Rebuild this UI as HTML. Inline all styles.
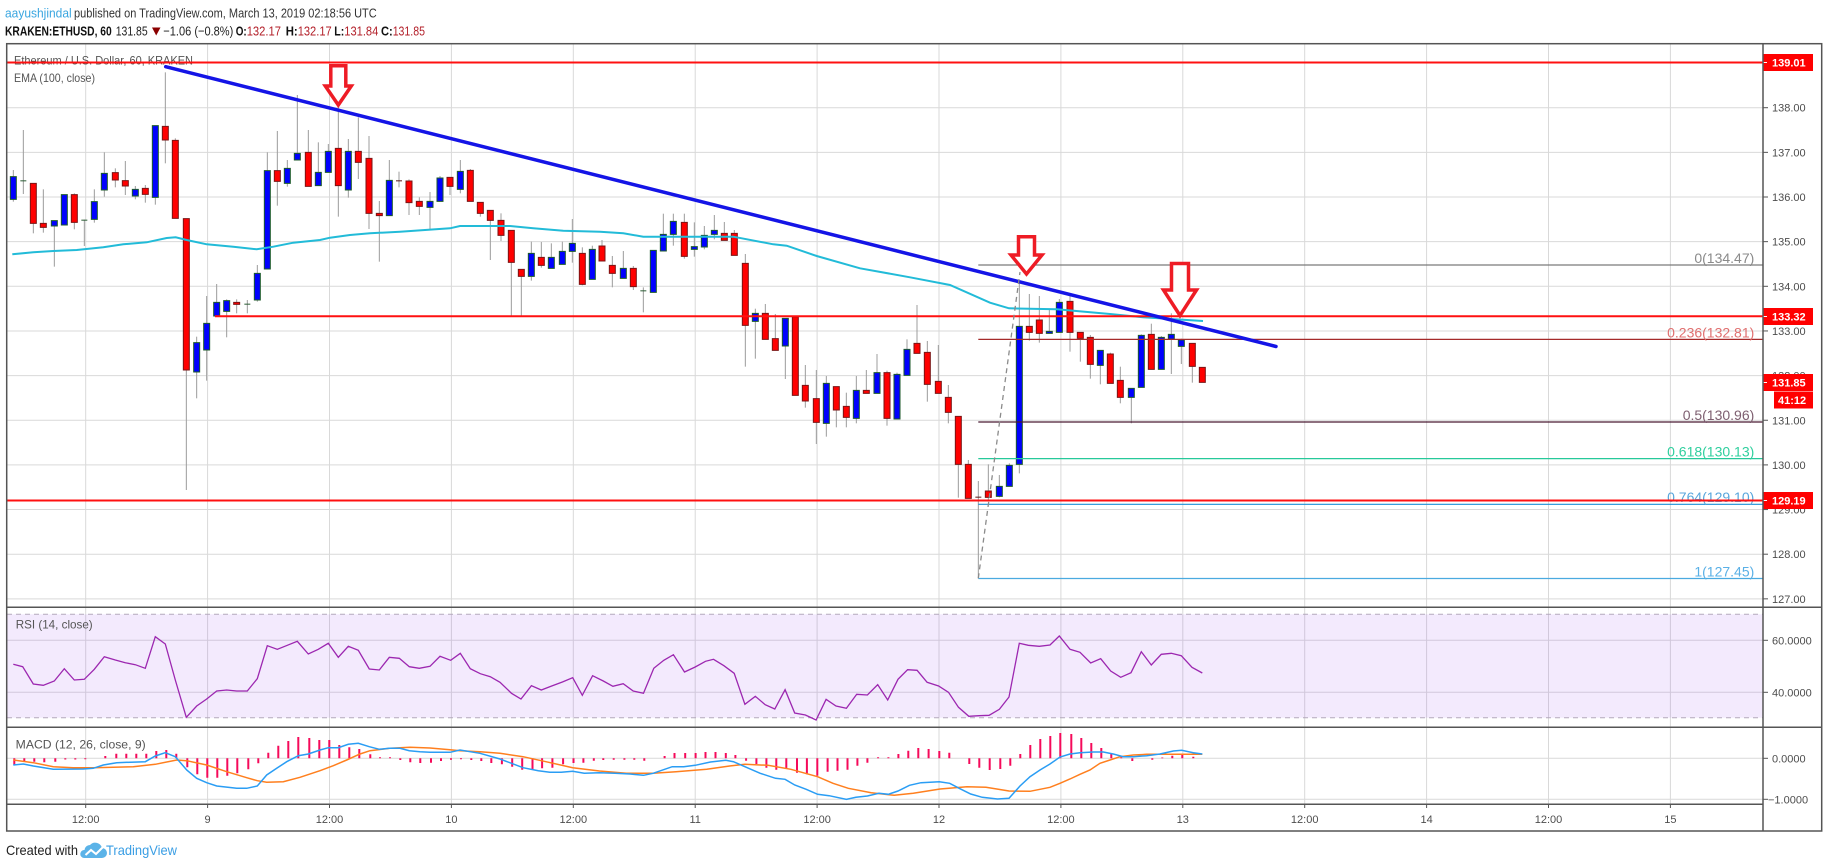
<!DOCTYPE html>
<html><head><meta charset="utf-8"><style>
html,body{margin:0;padding:0;background:#fff;}
svg{display:block;font-family:"Liberation Sans",Arial,sans-serif;}
.c line{stroke:#9c9c9c;stroke-width:1;vector-effect:non-scaling-stroke;}
.c .u{fill:#0000ff;stroke:#1d5a2a;stroke-width:1;vector-effect:non-scaling-stroke;}
.c .d{fill:#ff0000;stroke:#7a1414;stroke-width:1;vector-effect:non-scaling-stroke;}
.c .g{fill:#2a5c34;}
.c .r{fill:#5a1a1a;}
.ax{font-size:11px;fill:#4d4d4d;}
.lb{font-size:11px;fill:#fff;font-weight:bold;}
</style></head><body>
<svg width="1828" height="868" viewBox="0 0 1828 868" xmlns="http://www.w3.org/2000/svg">
<rect width="1828" height="868" fill="#fff"/>
<!-- header -->
<text x="5" y="17.5" font-size="13" fill="#3aa6e0" textLength="66.7" lengthAdjust="spacingAndGlyphs">aayushjindal</text>
<text x="74" y="17.5" font-size="13" fill="#333" textLength="302.7" lengthAdjust="spacingAndGlyphs">published on TradingView.com, March 13, 2019 02:18:56 UTC</text>
<text x="5" y="35.5" font-size="13" font-weight="bold" fill="#111" textLength="106.7" lengthAdjust="spacingAndGlyphs">KRAKEN:ETHUSD, 60</text>
<text x="115.7" y="35.5" font-size="13" fill="#222" textLength="32" lengthAdjust="spacingAndGlyphs">131.85</text>
<polygon points="152,27.5 160.5,27.5 156.2,35.5" fill="#8b0000"/>
<text x="163.3" y="35.5" font-size="13" fill="#222" textLength="70" lengthAdjust="spacingAndGlyphs">−1.06 (−0.8%)</text>
<text x="235.7" y="35.5" font-size="13" font-weight="bold" fill="#111" textLength="11" lengthAdjust="spacingAndGlyphs">O:</text>
<text x="246.7" y="35.5" font-size="13" fill="#b3202a" textLength="34.3" lengthAdjust="spacingAndGlyphs">132.17</text>
<text x="285.7" y="35.5" font-size="13" font-weight="bold" fill="#111" textLength="12" lengthAdjust="spacingAndGlyphs">H:</text>
<text x="297.7" y="35.5" font-size="13" fill="#b3202a" textLength="34" lengthAdjust="spacingAndGlyphs">132.17</text>
<text x="334.3" y="35.5" font-size="13" font-weight="bold" fill="#111" textLength="10" lengthAdjust="spacingAndGlyphs">L:</text>
<text x="344.3" y="35.5" font-size="13" fill="#b3202a" textLength="34" lengthAdjust="spacingAndGlyphs">131.84</text>
<text x="381" y="35.5" font-size="13" font-weight="bold" fill="#111" textLength="11.7" lengthAdjust="spacingAndGlyphs">C:</text>
<text x="392.7" y="35.5" font-size="13" fill="#b3202a" textLength="32.3" lengthAdjust="spacingAndGlyphs">131.85</text>

<!-- gridlines -->
<g stroke="#d9d9d9" stroke-width="1">
<line x1="7" x2="1763" y1="107.7" y2="107.7"/><line x1="7" x2="1763" y1="152.35" y2="152.35"/>
<line x1="7" x2="1763" y1="197" y2="197"/><line x1="7" x2="1763" y1="241.65" y2="241.65"/>
<line x1="7" x2="1763" y1="286.3" y2="286.3"/><line x1="7" x2="1763" y1="330.95" y2="330.95"/>
<line x1="7" x2="1763" y1="375.6" y2="375.6"/><line x1="7" x2="1763" y1="420.25" y2="420.25"/>
<line x1="7" x2="1763" y1="464.9" y2="464.9"/><line x1="7" x2="1763" y1="509.55" y2="509.55"/>
<line x1="7" x2="1763" y1="554.2" y2="554.2"/><line x1="7" x2="1763" y1="598.85" y2="598.85"/>
<line x1="7" x2="1763" y1="640.3" y2="640.3"/><line x1="7" x2="1763" y1="692.3" y2="692.3"/>
<line x1="7" x2="1763" y1="758.3" y2="758.3"/><line x1="7" x2="1763" y1="799.3" y2="799.3"/>
<line x1="85.7" x2="85.7" y1="44" y2="804"/><line x1="207.6" x2="207.6" y1="44" y2="804"/>
<line x1="329.5" x2="329.5" y1="44" y2="804"/><line x1="451.4" x2="451.4" y1="44" y2="804"/>
<line x1="573.3" x2="573.3" y1="44" y2="804"/><line x1="695.2" x2="695.2" y1="44" y2="804"/>
<line x1="817.1" x2="817.1" y1="44" y2="804"/><line x1="939" x2="939" y1="44" y2="804"/>
<line x1="1060.9" x2="1060.9" y1="44" y2="804"/><line x1="1182.8" x2="1182.8" y1="44" y2="804"/>
<line x1="1304.7" x2="1304.7" y1="44" y2="804"/><line x1="1426.6" x2="1426.6" y1="44" y2="804"/>
<line x1="1548.5" x2="1548.5" y1="44" y2="804"/><line x1="1670.4" x2="1670.4" y1="44" y2="804"/>
</g>

<!-- RSI fill -->
<rect x="7" y="614.3" width="1756" height="103.4" fill="rgba(150,60,235,0.11)"/>
<g stroke="#b4aabb" stroke-width="1" stroke-dasharray="5,4">
<line x1="7" x2="1763" y1="614.3" y2="614.3"/><line x1="7" x2="1763" y1="717.7" y2="717.7"/>
</g>

<!-- legends -->
<text x="14" y="64.5" font-size="12" fill="#555" textLength="179" lengthAdjust="spacingAndGlyphs">Ethereum / U.S. Dollar, 60, KRAKEN</text>
<text x="14" y="82" font-size="12" fill="#555" textLength="81" lengthAdjust="spacingAndGlyphs">EMA (100, close)</text>
<text x="15.7" y="628.5" font-size="12" fill="#555" textLength="77" lengthAdjust="spacingAndGlyphs">RSI (14, close)</text>
<text x="15.7" y="748.5" font-size="12" fill="#555" textLength="130" lengthAdjust="spacingAndGlyphs">MACD (12, 26, close, 9)</text>

<!-- candles -->
<g class="c" transform="translate(0,50) scale(0.333333)">
<line x1="40" y1="360" x2="40" y2="455"/><rect class="u" x="31" y="380" width="18" height="68"/>
<line x1="70" y1="240" x2="70" y2="432"/><rect class="g" x="61" y="391" width="18" height="3"/>
<line x1="100" y1="400" x2="100" y2="550"/><rect class="d" x="91" y="400" width="18" height="120"/>
<line x1="130" y1="418" x2="130" y2="548"/><rect class="d" x="121" y="520" width="18" height="12"/>
<line x1="163" y1="512" x2="163" y2="650"/><rect class="u" x="154" y="512" width="18" height="16"/>
<line x1="193" y1="434" x2="193" y2="525"/><rect class="u" x="184" y="434" width="18" height="91"/>
<line x1="223" y1="430" x2="223" y2="538"/><rect class="d" x="214" y="434" width="18" height="83"/>
<line x1="253" y1="509" x2="253" y2="588"/><rect class="g" x="244" y="509" width="18" height="3"/>
<line x1="283" y1="418" x2="283" y2="518"/><rect class="u" x="274" y="455" width="18" height="53"/>
<line x1="313" y1="307" x2="313" y2="440"/><rect class="u" x="304" y="370" width="18" height="50"/>
<line x1="346" y1="355" x2="346" y2="412"/><rect class="d" x="337" y="368" width="18" height="22"/>
<line x1="376" y1="333" x2="376" y2="435"/><rect class="d" x="367" y="392" width="18" height="16"/>
<line x1="406" y1="408" x2="406" y2="448"/><rect class="u" x="397" y="418" width="18" height="20"/>
<line x1="436" y1="405" x2="436" y2="458"/><rect class="d" x="427" y="415" width="18" height="18"/>
<line x1="466" y1="227" x2="466" y2="464"/><rect class="u" x="457" y="227" width="18" height="215"/>
<line x1="496" y1="67" x2="496" y2="340"/><rect class="d" x="487" y="229" width="18" height="41"/>
<line x1="526" y1="265" x2="526" y2="505"/><rect class="d" x="517" y="271" width="18" height="234"/>
<line x1="559" y1="506" x2="559" y2="1320"/><rect class="d" x="550" y="506" width="18" height="454"/>
<line x1="590" y1="860" x2="590" y2="1045"/><rect class="u" x="581" y="878" width="18" height="88"/>
<line x1="620" y1="738" x2="620" y2="992"/><rect class="u" x="611" y="820" width="18" height="80"/>
<line x1="650" y1="702" x2="650" y2="798"/><rect class="u" x="641" y="757" width="18" height="41"/>
<line x1="680" y1="748" x2="680" y2="862"/><rect class="u" x="671" y="752" width="18" height="32"/>
<line x1="710" y1="748" x2="710" y2="790"/><rect class="d" x="701" y="757" width="18" height="6"/>
<line x1="742" y1="750" x2="742" y2="790"/><rect class="g" x="733" y="761" width="18" height="3"/>
<line x1="772" y1="645" x2="772" y2="755"/><rect class="u" x="763" y="670" width="18" height="80"/>
<line x1="802" y1="307" x2="802" y2="657"/><rect class="u" x="793" y="362" width="18" height="295"/>
<line x1="832" y1="243" x2="832" y2="467"/><rect class="d" x="823" y="362" width="18" height="32"/>
<line x1="862" y1="330" x2="862" y2="410"/><rect class="u" x="853" y="355" width="18" height="45"/>
<line x1="892" y1="135" x2="892" y2="330"/><rect class="u" x="883" y="310" width="18" height="20"/>
</g>
<g class="c" transform="translate(300,100) scale(0.333333)">
<line x1="25" y1="90" x2="25" y2="259"/><rect class="d" x="16" y="157" width="18" height="102"/>
<line x1="55" y1="127" x2="55" y2="257"/><rect class="u" x="46" y="217" width="18" height="40"/>
<line x1="85" y1="132" x2="85" y2="217"/><rect class="u" x="76" y="154" width="18" height="63"/>
<line x1="115" y1="20" x2="115" y2="350"/><rect class="d" x="106" y="145" width="18" height="112"/>
<line x1="145" y1="117" x2="145" y2="293"/><rect class="u" x="136" y="154" width="18" height="116"/>
<line x1="175" y1="52" x2="175" y2="237"/><rect class="d" x="166" y="154" width="18" height="33"/>
<line x1="207" y1="108" x2="207" y2="387"/><rect class="d" x="198" y="175" width="18" height="165"/>
<line x1="238" y1="303" x2="238" y2="485"/><rect class="d" x="229" y="340" width="18" height="7"/>
<line x1="268" y1="180" x2="268" y2="347"/><rect class="u" x="259" y="241" width="18" height="106"/>
<line x1="297" y1="215" x2="297" y2="262"/><rect class="r" x="288" y="241" width="18" height="3"/>
<line x1="327" y1="238" x2="327" y2="345"/><rect class="d" x="318" y="243" width="18" height="65"/>
<line x1="358" y1="292" x2="358" y2="345"/><rect class="d" x="349" y="304" width="18" height="15"/>
<line x1="390" y1="276" x2="390" y2="390"/><rect class="u" x="381" y="304" width="18" height="18"/>
<line x1="420" y1="228" x2="420" y2="304"/><rect class="u" x="411" y="234" width="18" height="70"/>
<line x1="450" y1="232" x2="450" y2="285"/><rect class="d" x="441" y="232" width="18" height="27"/>
<line x1="481" y1="180" x2="481" y2="280"/><rect class="u" x="472" y="214" width="18" height="54"/>
<line x1="511" y1="207" x2="511" y2="304"/><rect class="d" x="502" y="211" width="18" height="93"/>
<line x1="541" y1="307" x2="541" y2="350"/><rect class="d" x="532" y="307" width="18" height="33"/>
<line x1="571" y1="331" x2="571" y2="480"/><rect class="d" x="562" y="331" width="18" height="30"/>
<line x1="603" y1="340" x2="603" y2="423"/><rect class="d" x="594" y="361" width="18" height="45"/>
<line x1="634" y1="391" x2="634" y2="648"/><rect class="d" x="625" y="391" width="18" height="96"/>
<line x1="664" y1="508" x2="664" y2="648"/><rect class="d" x="655" y="508" width="18" height="21"/>
<line x1="694" y1="425" x2="694" y2="542"/><rect class="u" x="685" y="460" width="18" height="69"/>
<line x1="724" y1="426" x2="724" y2="503"/><rect class="d" x="715" y="472" width="18" height="24"/>
<line x1="754" y1="430" x2="754" y2="505"/><rect class="u" x="745" y="472" width="18" height="33"/>
<line x1="787" y1="425" x2="787" y2="493"/><rect class="u" x="778" y="454" width="18" height="39"/>
<line x1="817" y1="357" x2="817" y2="488"/><rect class="u" x="808" y="430" width="18" height="24"/>
<line x1="847" y1="442" x2="847" y2="556"/><rect class="d" x="838" y="460" width="18" height="93"/>
<line x1="877" y1="437" x2="877" y2="538"/><rect class="u" x="868" y="448" width="18" height="90"/>
</g>
<g class="c" transform="translate(600,180) scale(0.333333)">
<line x1="6" y1="180" x2="6" y2="243"/><rect class="d" x="-3" y="198" width="18" height="45"/>
<line x1="37" y1="228" x2="37" y2="322"/><rect class="d" x="28" y="256" width="18" height="24"/>
<line x1="70" y1="213" x2="70" y2="295"/><rect class="u" x="61" y="265" width="18" height="30"/>
<line x1="100" y1="258" x2="100" y2="330"/><rect class="d" x="91" y="265" width="18" height="55"/>
<line x1="130" y1="322" x2="130" y2="397"/><rect class="g" x="121" y="331" width="18" height="3"/>
<line x1="160" y1="211" x2="160" y2="337"/><rect class="u" x="151" y="211" width="18" height="126"/>
<line x1="190" y1="101" x2="190" y2="213"/><rect class="u" x="181" y="163" width="18" height="50"/>
<line x1="220" y1="101" x2="220" y2="197"/><rect class="u" x="211" y="124" width="18" height="39"/>
<line x1="253" y1="101" x2="253" y2="236"/><rect class="d" x="244" y="127" width="18" height="102"/>
<line x1="283" y1="127" x2="283" y2="230"/><rect class="u" x="274" y="200" width="18" height="8"/>
<line x1="313" y1="138" x2="313" y2="208"/><rect class="u" x="304" y="166" width="18" height="35"/>
<line x1="343" y1="105" x2="343" y2="178"/><rect class="u" x="334" y="151" width="18" height="12"/>
<line x1="373" y1="126" x2="373" y2="181"/><rect class="d" x="364" y="160" width="18" height="21"/>
<line x1="403" y1="150" x2="403" y2="226"/><rect class="d" x="394" y="160" width="18" height="66"/>
<line x1="436" y1="222" x2="436" y2="560"/><rect class="d" x="427" y="250" width="18" height="186"/>
<line x1="466" y1="386" x2="466" y2="536"/><rect class="u" x="457" y="400" width="18" height="24"/>
<line x1="496" y1="372" x2="496" y2="478"/><rect class="d" x="487" y="400" width="18" height="78"/>
<line x1="526" y1="402" x2="526" y2="511"/><rect class="d" x="517" y="476" width="18" height="35"/>
<line x1="556" y1="415" x2="556" y2="597"/><rect class="u" x="547" y="415" width="18" height="83"/>
<line x1="586" y1="411" x2="586" y2="646"/><rect class="d" x="577" y="411" width="18" height="235"/>
<line x1="616" y1="555" x2="616" y2="683"/><rect class="d" x="607" y="616" width="18" height="47"/>
<line x1="649" y1="570" x2="649" y2="792"/><rect class="d" x="640" y="656" width="18" height="71"/>
<line x1="679" y1="588" x2="679" y2="770"/><rect class="u" x="670" y="610" width="18" height="120"/>
<line x1="709" y1="620" x2="709" y2="742"/><rect class="d" x="700" y="620" width="18" height="70"/>
<line x1="739" y1="638" x2="739" y2="742"/><rect class="d" x="730" y="679" width="18" height="33"/>
<line x1="769" y1="588" x2="769" y2="730"/><rect class="u" x="760" y="631" width="18" height="84"/>
<line x1="799" y1="570" x2="799" y2="640"/><rect class="d" x="790" y="631" width="18" height="9"/>
<line x1="831" y1="522" x2="831" y2="640"/><rect class="u" x="822" y="578" width="18" height="62"/>
<line x1="861" y1="572" x2="861" y2="737"/><rect class="d" x="852" y="578" width="18" height="137"/>
<line x1="891" y1="578" x2="891" y2="717"/><rect class="u" x="882" y="583" width="18" height="134"/>
<line x1="921" y1="478" x2="921" y2="586"/><rect class="u" x="912" y="508" width="18" height="78"/>
</g>
<g class="c" transform="translate(910,220) scale(0.333333)">
<line x1="21" y1="255" x2="21" y2="400"/><rect class="d" x="12" y="370" width="18" height="30"/>
<line x1="52" y1="363" x2="52" y2="545"/><rect class="d" x="43" y="397" width="18" height="96"/>
<line x1="85" y1="375" x2="85" y2="520"/><rect class="d" x="76" y="484" width="18" height="36"/>
<line x1="115" y1="495" x2="115" y2="610"/><rect class="d" x="106" y="532" width="18" height="45"/>
<line x1="145" y1="589" x2="145" y2="833"/><rect class="d" x="136" y="589" width="18" height="144"/>
<line x1="175" y1="720" x2="175" y2="835"/><rect class="d" x="166" y="733" width="18" height="102"/>
<line x1="205" y1="783" x2="205" y2="1075"/><rect class="r" x="196" y="830" width="18" height="3"/>
<line x1="235" y1="733" x2="235" y2="845"/><rect class="d" x="226" y="813" width="18" height="19"/>
<line x1="268" y1="765" x2="268" y2="832"/><rect class="u" x="259" y="799" width="18" height="30"/>
<line x1="298" y1="730" x2="298" y2="799"/><rect class="u" x="289" y="736" width="18" height="63"/>
<line x1="328" y1="185" x2="328" y2="760"/><rect class="u" x="319" y="319" width="18" height="414"/>
<line x1="358" y1="222" x2="358" y2="362"/><rect class="d" x="349" y="319" width="18" height="18"/>
<line x1="388" y1="228" x2="388" y2="368"/><rect class="d" x="379" y="300" width="18" height="40"/>
<line x1="418" y1="270" x2="418" y2="340"/><rect class="u" x="409" y="334" width="18" height="6"/>
<line x1="448" y1="237" x2="448" y2="337"/><rect class="u" x="439" y="247" width="18" height="90"/>
<line x1="480" y1="220" x2="480" y2="395"/><rect class="d" x="471" y="244" width="18" height="93"/>
<line x1="511" y1="337" x2="511" y2="425"/><rect class="d" x="502" y="337" width="18" height="18"/>
<line x1="541" y1="345" x2="541" y2="476"/><rect class="d" x="532" y="352" width="18" height="81"/>
<line x1="571" y1="391" x2="571" y2="493"/><rect class="u" x="562" y="391" width="18" height="45"/>
<line x1="601" y1="398" x2="601" y2="490"/><rect class="d" x="592" y="402" width="18" height="88"/>
<line x1="631" y1="440" x2="631" y2="550"/><rect class="d" x="622" y="481" width="18" height="51"/>
<line x1="664" y1="505" x2="664" y2="610"/><rect class="u" x="655" y="505" width="18" height="27"/>
<line x1="694" y1="343" x2="694" y2="502"/><rect class="u" x="685" y="346" width="18" height="156"/>
<line x1="724" y1="311" x2="724" y2="448"/><rect class="d" x="715" y="343" width="18" height="105"/>
<line x1="754" y1="348" x2="754" y2="448"/><rect class="u" x="745" y="352" width="18" height="96"/>
<line x1="784" y1="280" x2="784" y2="462"/><rect class="u" x="775" y="343" width="18" height="14"/>
<line x1="814" y1="356" x2="814" y2="432"/><rect class="u" x="805" y="360" width="18" height="19"/>
<line x1="847" y1="370" x2="847" y2="488"/><rect class="d" x="838" y="370" width="18" height="69"/>
<line x1="877" y1="442" x2="877" y2="487"/><rect class="d" x="868" y="442" width="18" height="45"/>
</g>

<!-- EMA -->
<polyline fill="none" stroke="#22bbd8" stroke-width="2" points="12.3,254.3 33.3,252.3 53.3,251 76.7,250 103.3,247.3 123.3,244.3 146.7,242.3 166.7,238 175.7,237.3 186.7,240 206.7,244.3 233.3,246.7 256.7,249.3 273.3,246.7 293.3,242.7 320,240 330,237.7 350,235 370,233.3 400,231.7 450,228.3 460,226 510,226 533.3,228.3 563.3,230.7 600,231.7 623.3,233.3 643.3,236.7 733.3,236.7 773.3,244.3 786.7,245.7 816.7,256 860,268.3 910,277.3 950,285 990,302.7 1009,308.3 1056.7,309.3 1110,314 1143,317.3 1203,321"/>

<!-- fib lines -->
<line x1="978.3" x2="1763" y1="265" y2="265" stroke="#7a7a7a" stroke-width="1.2"/>
<line x1="978.3" x2="1763" y1="339.4" y2="339.4" stroke="#a52a2a" stroke-width="1.2"/>
<line x1="978.3" x2="1763" y1="422" y2="422" stroke="#4a1a33" stroke-width="1.2"/>
<line x1="978.3" x2="1763" y1="458.6" y2="458.6" stroke="#26c99a" stroke-width="1.2"/>
<line x1="978.3" x2="1763" y1="504.3" y2="504.3" stroke="#1e90d6" stroke-width="1.2"/>
<line x1="978.3" x2="1763" y1="578.5" y2="578.5" stroke="#4aaae0" stroke-width="1.2"/>
<g font-size="14" text-anchor="end">
<text x="1754.3" y="263" fill="#8a8a8a">0(134.47)</text>
<text x="1754.3" y="337.5" fill="#e07070">0.236(132.81)</text>
<text x="1754.3" y="420" fill="#7e5f70">0.5(130.96)</text>
<text x="1754.3" y="456.5" fill="#2fcf9e">0.618(130.13)</text>
<text x="1754.3" y="502" fill="#58a6dc">0.764(129.10)</text>
<text x="1754.3" y="576.5" fill="#5ab0e6">1(127.45)</text>
</g>

<!-- red horizontal lines -->
<g stroke="#ff1010" stroke-width="2">
<line x1="7" x2="1763" y1="62.5" y2="62.5"/>
<line x1="215" x2="1763" y1="316.3" y2="316.3"/>
<line x1="7" x2="1763" y1="500.5" y2="500.5"/>
</g>

<!-- trendline -->
<line x1="165.7" y1="66.7" x2="1276" y2="346.5" stroke="#1414e6" stroke-width="3.5" stroke-linecap="round"/>
<!-- dashed fib connector -->
<line x1="978.3" y1="578.3" x2="1020" y2="272" stroke="#8a8a8a" stroke-width="1.3" stroke-dasharray="5,4"/>

<!-- arrows -->
<g fill="#fff" stroke="#ee1c25" stroke-width="3.5" stroke-linejoin="miter">
<polygon points="330.8,65.8 345.8,65.8 345.8,86 351.3,86 338.3,105 325.3,86 330.8,86"/>
<polygon points="1018.5,236.8 1034.5,236.8 1034.5,255 1042,255 1026.5,274 1011,255 1018.5,255"/>
<polygon points="1171.5,263.5 1188.5,263.5 1188.5,290 1196.5,290 1180,315.5 1163.5,290 1171.5,290"/>
</g>

<!-- RSI line -->
<polyline fill="none" stroke="#9c27b0" stroke-width="1.3" points="13.3,664.3 22.7,666.7 33.3,684 43.3,685.3 54.3,681 64.3,668.7 74.3,680 84.3,679.3 94.3,669.3 104.3,656.7 115.3,660 125.3,662.7 135.3,664.7 145.3,668.3 155.3,636.7 165.3,644 175.3,680 186.3,717.3 196.7,706 206.7,699 216.7,691 226.7,690 236.7,691 247.3,691 257.3,678.7 267.3,645.7 277.3,649.3 287.3,645.3 297.3,641.3 308.3,654 318.3,649.3 328.3,643.3 338.3,657.3 348.3,646.3 358.3,650.3 369.3,669 379.3,670 389.3,657.3 399.3,658.3 409.3,666.7 419.3,668.3 430,666.3 440,656.3 450.7,660.3 460.3,653.3 470.3,668.7 480.3,673.7 490.3,676.7 500,682.3 511.5,693.3 521,699 531.4,685.7 541.3,690 551.7,686 562.4,682 572.7,677.7 582.3,695.3 592.6,675.7 603.3,681 612.9,686.3 623.2,683.7 633.2,691 643.5,693.3 653.8,668.3 663.8,660.3 673.4,654.7 684.5,672 695.2,667 705.5,661.3 713.5,659.3 723.9,665.7 734.2,673.3 744.9,704.3 755.3,696.3 765.2,704.7 774.8,709 785.1,689.7 794.7,713 805.4,715 816.1,720 826.1,699.3 836,706 846.4,708.3 856.7,694.3 867.4,695 877.7,684.7 887.7,700 898,679.3 907.6,669.7 917.1,670.3 927.1,682.3 938.6,686 948.5,692.3 958.5,707.3 968.8,716.3 979.1,715.7 989.1,715.3 999.4,709.3 1009,697 1019.3,643.3 1028.3,645.3 1039.3,646.3 1050,645 1059.3,636 1070,649.3 1080,652.3 1090.7,663 1100.7,658.7 1110.7,671 1120.7,677.3 1131,672.7 1141.3,651.7 1151.3,665 1161.3,654.3 1171.3,653.3 1181.3,655.7 1192,667.3 1202.3,673"/>

<!-- MACD histogram -->
<path fill="none" stroke="#f50a5a" stroke-width="2" d="M14.3 758.3V765M24.3 758.3V761.7M34.3 758.3V761.7M44.3 758.3V762.3M55.3 758.3V761.7M65.3 758.3V759.5M75.3 758.3V759.5M85.3 758.3V759.3M105.3 758.3V756M116.3 758.3V753.7M126.3 758.3V753.7M136.3 758.3V753.7M146.3 758.3V753.7M156.3 758.3V751M166.3 758.3V750M176.3 758.3V753.7M187.3 758.3V767.3M197.3 758.3V774.3M207.3 758.3V777.7M217.3 758.3V777.7M227.3 758.3V775.7M237.3 758.3V773.3M248.3 758.3V769.3M258.3 758.3V763.3M268.3 758.3V752.7M278.3 758.3V745.7M288.3 758.3V741M298.3 758.3V737M309.3 758.3V738M319.3 758.3V740M329.3 758.3V740M339.3 758.3V745M349.3 758.3V747.3M359.3 758.3V749M370.3 758.3V754.3M380 758.3V757.3M390 758.3V757.3M400.3 758.3V760M410.3 758.3V762.3M420.3 758.3V763M431 758.3V762.7M441 758.3V761M451 758.3V759.7M461 758.3V759.3M471.3 758.3V760M481.3 758.3V761M491.3 758.3V763M501.9 758.3V764.3M512.2 758.3V766.7M522.2 758.3V769.7M532.5 758.3V769.3M542.1 758.3V768.3M552.4 758.3V767.7M563.1 758.3V764.3M573.5 758.3V763M583.4 758.3V762.7M593.8 758.3V760.7M603.3 758.3V760M613.7 758.3V759.7M624.4 758.3V759.7M634.3 758.3V759.7M644.3 758.3V760.7M664.6 758.3V756M674.5 758.3V753M685.2 758.3V753M695.6 758.3V753M705.5 758.3V752M715.5 758.3V752M725.8 758.3V753M735.4 758.3V755M746.1 758.3V760.7M756.4 758.3V764M766.4 758.3V767.7M776.3 758.3V769.7M786.3 758.3V768.3M797 758.3V772.7M806.9 758.3V774.3M817.3 758.3V775.7M827.6 758.3V771.7M837.5 758.3V770.7M847.5 758.3V769.7M857.4 758.3V765.7M867.4 758.3V762.7M878.1 758.3V757.3M888.4 758.3V757.3M898.4 758.3V754M908.3 758.3V750.7M918.3 758.3V748M928.6 758.3V749M939.3 758.3V751M949.3 758.3V752.7M969.3 758.3V764M979.3 758.3V767.7M989.7 758.3V770M1000.3 758.3V769M1010.3 758.3V765.7M1020.3 758.3V754M1030.3 758.3V745M1040.3 758.3V739M1050.3 758.3V736M1060.3 758.3V733M1071.3 758.3V734M1081.3 758.3V738M1091.3 758.3V743M1101.3 758.3V748M1111.3 758.3V753.3M1121.3 758.3V757.3M1132.3 758.3V761M1152.3 758.3V759.7M1162.3 758.3V757.5M1172.3 758.3V755.7M1182.3 758.3V754.3M1193.3 758.3V756.7"/>
<!-- MACD signal (orange) -->
<polyline fill="none" stroke="#ff7f1e" stroke-width="1.5" points="13.3,760 33.3,762.7 53.3,766.7 73.3,767.7 93.3,767.7 113.3,767.3 133.3,766.7 155.3,764.3 176.7,760 186.7,760.7 206.7,765 226.7,771.7 246.7,777.7 257.3,780.7 266.7,782.3 283.3,781.7 300,777.3 320,770.7 333.3,765.7 346.7,760 360,754 370,750.7 390,748.3 410,747.3 430,748 450,749.7 460,750.7 480,751.7 500,753.3 523,756.7 545.9,761.7 572.7,767.7 599.5,771 626.3,773.3 653.1,773.3 676,771.7 706.7,769.3 729.6,766 744.9,764.3 767.9,765.3 790.9,769.3 817.6,776.7 833,783.3 848.3,788.3 871.2,792.7 894.2,795.3 913.3,793.3 940.1,789 966.9,786.7 986,787.3 1009,791 1030,791.3 1050,787.3 1060,783.3 1070,779 1080,774.3 1090,770 1100,763.3 1110,760 1120,756.7 1133.3,755 1146.7,754.3 1166.7,754.3 1193.3,754.3 1202.3,754.3"/>
<!-- MACD line (blue) -->
<polyline fill="none" stroke="#2a9df4" stroke-width="1.5" points="13.3,765 23.3,764 33.3,766 53.3,769.3 83.3,769 93.3,768.3 103.3,765 116.7,762.7 145.3,761.7 155.3,756 165.3,752.7 175.3,756.7 186.7,770 196.7,778.3 206.7,782.7 216.7,786 236.7,788.3 246.7,788.3 257.3,786 266.7,775 276.7,768.3 286.7,761.7 298.3,755.7 308.3,754 320,750 328.3,747.7 338.3,747.7 348.3,744.3 358.3,743.3 369.3,746.7 379.3,749.3 389.3,748.3 400,748.3 409.3,750.7 420,751.7 430,752.3 450,752.3 460,750 480,753.3 500,759 511.5,763.3 523,767.7 538.3,770.7 549.8,772.3 561.2,772.3 572.7,771.3 584.2,773.3 599.5,772.7 614.8,773.3 630.1,774 643.5,775.3 653.1,773.3 672.2,766.7 683.7,766.7 695.2,765.3 710.5,762 725.8,760.3 733.5,761.7 744.9,766.7 760.2,773.3 775.5,778.3 785.1,779.3 794.7,785 806.2,789.3 817.6,794.3 829.1,795.7 846.4,799.3 855.9,797.3 867.4,796 878.9,793.3 888.4,794.3 898,791 909.5,785.3 921,782.7 939.3,781.7 949.7,783.3 959.2,788.3 970.7,794 982.2,797.3 997.5,799 1009,798.3 1020,786 1030,776.7 1040,770 1050,764 1060,757 1070,754 1080,752.7 1093.3,752 1103.3,752 1113.3,754 1123.3,756.7 1133.3,756.7 1146.7,755.7 1160,754 1173.3,751 1181.7,750.3 1193.3,752.7 1202.3,754"/>

<!-- price axis background -->
<rect x="1764" y="44" width="58" height="787" fill="#fff"/>
<rect x="7" y="805" width="1756" height="26" fill="#fff"/>
<!-- axis ticks -->
<g stroke="#555" stroke-width="1">
<line x1="1763" x2="1768" y1="107.7" y2="107.7"/><line x1="1763" x2="1768" y1="152.35" y2="152.35"/>
<line x1="1763" x2="1768" y1="197" y2="197"/><line x1="1763" x2="1768" y1="241.65" y2="241.65"/>
<line x1="1763" x2="1768" y1="286.3" y2="286.3"/><line x1="1763" x2="1768" y1="330.95" y2="330.95"/>
<line x1="1763" x2="1768" y1="375.6" y2="375.6"/><line x1="1763" x2="1768" y1="420.25" y2="420.25"/>
<line x1="1763" x2="1768" y1="464.9" y2="464.9"/><line x1="1763" x2="1768" y1="509.55" y2="509.55"/>
<line x1="1763" x2="1768" y1="554.2" y2="554.2"/><line x1="1763" x2="1768" y1="598.85" y2="598.85"/>
<line x1="1763" x2="1768" y1="640.3" y2="640.3"/><line x1="1763" x2="1768" y1="692.3" y2="692.3"/>
<line x1="1763" x2="1768" y1="758.3" y2="758.3"/><line x1="1763" x2="1768" y1="799.3" y2="799.3"/>
<line x1="85.7" x2="85.7" y1="804" y2="808"/><line x1="207.6" x2="207.6" y1="804" y2="808"/>
<line x1="329.5" x2="329.5" y1="804" y2="808"/><line x1="451.4" x2="451.4" y1="804" y2="808"/>
<line x1="573.3" x2="573.3" y1="804" y2="808"/><line x1="695.2" x2="695.2" y1="804" y2="808"/>
<line x1="817.1" x2="817.1" y1="804" y2="808"/><line x1="939" x2="939" y1="804" y2="808"/>
<line x1="1060.9" x2="1060.9" y1="804" y2="808"/><line x1="1182.8" x2="1182.8" y1="804" y2="808"/>
<line x1="1304.7" x2="1304.7" y1="804" y2="808"/><line x1="1426.6" x2="1426.6" y1="804" y2="808"/>
<line x1="1548.5" x2="1548.5" y1="804" y2="808"/><line x1="1670.4" x2="1670.4" y1="804" y2="808"/>
</g>
<g class="ax">
<text x="1772" y="111.7">138.00</text><text x="1772" y="156.35">137.00</text>
<text x="1772" y="201">136.00</text><text x="1772" y="245.65">135.00</text>
<text x="1772" y="290.3">134.00</text><text x="1772" y="334.95">133.00</text>
<text x="1772" y="379.6">132.00</text><text x="1772" y="424.25">131.00</text>
<text x="1772" y="468.9">130.00</text><text x="1772" y="513.55">129.00</text>
<text x="1772" y="558.2">128.00</text><text x="1772" y="602.85">127.00</text>
<text x="1772" y="644.3">60.0000</text><text x="1772" y="696.3">40.0000</text>
<text x="1772" y="762.3">0.0000</text><text x="1768" y="803.3">−1.0000</text>
</g>
<g class="ax" text-anchor="middle">
<text x="85.7" y="823">12:00</text><text x="207.6" y="823">9</text>
<text x="329.5" y="823">12:00</text><text x="451.4" y="823">10</text>
<text x="573.3" y="823">12:00</text><text x="695.2" y="823">11</text>
<text x="817.1" y="823">12:00</text><text x="939" y="823">12</text>
<text x="1060.9" y="823">12:00</text><text x="1182.8" y="823">13</text>
<text x="1304.7" y="823">12:00</text><text x="1426.6" y="823">14</text>
<text x="1548.5" y="823">12:00</text><text x="1670.4" y="823">15</text>
</g>
<!-- red price labels -->
<g fill="#ff0000">
<rect x="1763" y="54" width="50" height="17"/>
<rect x="1763" y="308" width="50" height="17"/>
<rect x="1763" y="374" width="50" height="17"/>
<rect x="1774" y="391.5" width="39" height="17"/>
<rect x="1763" y="492" width="50" height="17"/>
</g>
<g stroke="#fff" stroke-width="1">
<line x1="1763" x2="1767" y1="62.5" y2="62.5"/><line x1="1763" x2="1767" y1="316.5" y2="316.5"/>
<line x1="1763" x2="1767" y1="382.5" y2="382.5"/><line x1="1763" x2="1767" y1="500.5" y2="500.5"/>
</g>
<g class="lb">
<text x="1772" y="66.5">139.01</text>
<text x="1772" y="320.5">133.32</text>
<text x="1772" y="386.5">131.85</text>
<text x="1778" y="404">41:12</text>
<text x="1772" y="504.5">129.19</text>
</g>

<!-- frames -->
<g stroke="#555" stroke-width="1.5" fill="none">
<rect x="6.7" y="43.7" width="1815" height="787.3"/>
<line x1="1763" x2="1763" y1="43.7" y2="831"/>
<line x1="6.7" x2="1822" y1="607.3" y2="607.3"/>
<line x1="6.7" x2="1822" y1="727.3" y2="727.3"/>
<line x1="6.7" x2="1763" y1="804.3" y2="804.3"/>
</g>

<!-- footer -->
<text x="6" y="855" font-size="14" fill="#222" textLength="72" lengthAdjust="spacingAndGlyphs">Created with</text>
<path d="M84 858 H102 A5 5 0 0 0 102 848 A7 7 0 0 0 90 845 A5.5 5.5 0 0 0 84.5 850 A4 4 0 0 0 84 858 Z" fill="#5bb3e8"/>
<polyline points="85.5,855 91,850 96,854 103,847" fill="none" stroke="#fff" stroke-width="2"/>
<text x="106" y="855" font-size="14" fill="#3a9ee4" textLength="71" lengthAdjust="spacingAndGlyphs">TradingView</text>
</svg>
</body></html>
